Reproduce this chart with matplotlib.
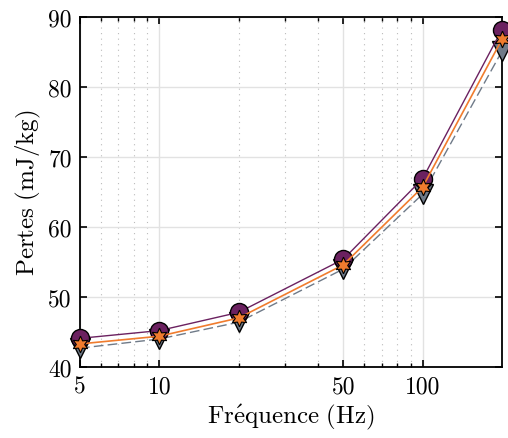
import matplotlib
matplotlib.use("Agg")
import matplotlib.pyplot as plt
from matplotlib.ticker import FixedLocator, NullFormatter
import numpy as np

plt.rcParams['font.family'] = 'serif'
plt.rcParams['font.serif'] = ['cmr10']
plt.rcParams['mathtext.fontset'] = 'cm'
plt.rcParams['axes.formatter.use_mathtext'] = True

# Données
freq = [5, 10, 20, 50, 100, 200]
pertes_a = [44.1, 45.2, 47.8, 55.4, 66.9, 88.2]
pertes_b = [43.3, 44.4, 47.0, 54.6, 65.7, 86.8]
pertes_c = [42.7, 44.0, 46.4, 54.0, 64.7, 85.1]
xticks = [5, 10, 50, 100]
yticks = [40, 50, 60, 70, 80, 90]

violet = '#6b2160'
orange = '#f07c2e'
gris = '#6f7a88'

fig = plt.figure(figsize=(5.08, 4.39), dpi=100)
ax = fig.add_axes([0.1575, 0.1617, 0.8305, 0.7973])

ax.plot(freq, pertes_c, '--', color=gris, lw=1.0, dashes=(7, 3), marker='v', ms=14,
        mfc=gris, mec='black', mew=1.0, zorder=3, clip_on=False)
ax.plot(freq, pertes_a, '-', color=violet, lw=1.0, marker='o', ms=13,
        mfc=violet, mec='black', mew=1.0, zorder=4, clip_on=False)
ax.plot(freq, pertes_b, '-', color=orange, lw=1.2, marker=(6, 1, 0), ms=12,
        mfc=orange, mec='black', mew=0.8, zorder=5, clip_on=False)

ax.set_xscale('log')
ax.set_xlim(5, 200)
ax.set_ylim(40, 90)
ax.xaxis.set_major_locator(FixedLocator(xticks))
ax.set_xticklabels([str(t) for t in xticks])
minor = [6, 7, 8, 9, 20, 30, 40, 60, 70, 80, 90]
ax.xaxis.set_minor_locator(FixedLocator(minor))
ax.xaxis.set_minor_formatter(NullFormatter())
ax.set_yticks(yticks)
ax.set_yticklabels([str(t) for t in yticks])

ax.grid(True, which='major', color='#e2e2e2', lw=1.0, ls='-')
ax.grid(True, which='minor', axis='x', color='#bbbbbb', lw=0.8, ls=(0, (1, 4)))
ax.set_axisbelow(True)

ax.tick_params(which='both', direction='in', top=True, right=True, labelsize=17)
ax.tick_params(axis='x', which='major', pad=6)
ax.tick_params(axis='y', which='major', pad=6)
ax.tick_params(which='major', length=5, width=1.2)
ax.tick_params(which='minor', length=3, width=1.0)
for s in ax.spines.values():
    s.set_linewidth(1.3)

ax.set_xlabel(r"$\mathrm{Fr\'equence\ (Hz)}$", fontsize=18, labelpad=3)
ax.set_ylabel(r"$\mathrm{Pertes\ (mJ/kg)}$", fontsize=18, labelpad=4)

fig.savefig('out.png', dpi=100)
